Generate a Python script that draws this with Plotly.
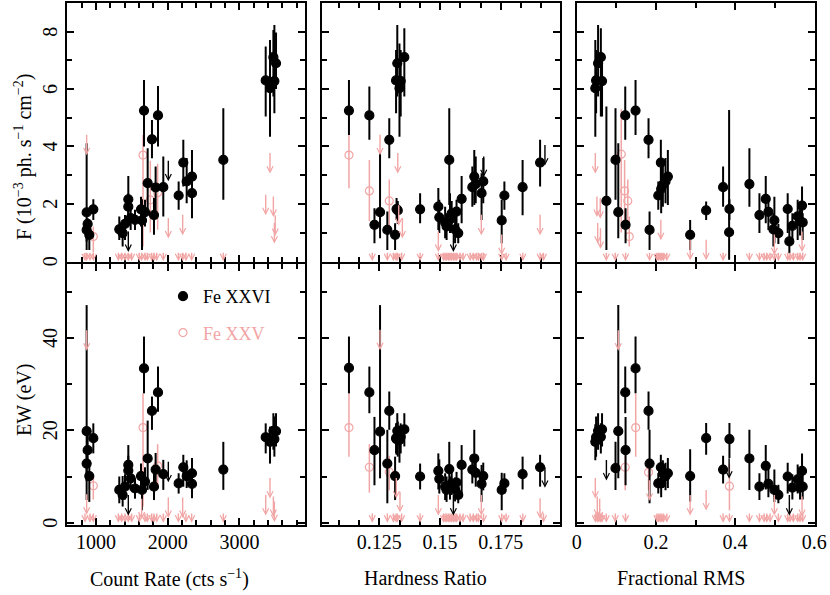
import plotly.graph_objects as go

PINK = '#F2A5A5'
FONT = 'Liberation Serif'

# ---------------- Count-rate panels ----------------
cr_fe26 = [870, 884, 870, 907, 963, 1325, 1372, 1405, 1451, 1451, 1484, 1544, 1628, 1642, 1684, 1670, 1721,
           1781, 1809, 1832, 1865, 1939, 2153, 2218, 2265, 2339, 2339, 2776, 3367, 3427, 3474, 3488, 3511]
f26_cr = [1.70, 1.30, 1.09, 0.92, 1.81, 1.11, 0.98, 1.30, 2.16, 1.90, 1.50, 1.44, 1.81, 1.42, 1.71, 5.25, 2.72,
          4.25, 1.61, 2.57, 5.08, 2.58, 2.29, 3.44, 2.78, 2.95, 2.37, 3.53, 6.30, 6.03, 7.11, 6.28, 6.90]
f26_cr_lo = [0.39, 0.98, 0.69, 0.39, 1.44, 0.74, 0.51, 0.74, 1.56, 1.44, 1.09, 1.09, 1.21, 0.39, 1.21, 4.00, 1.61,
             3.59, 0.92, 1.67, 4.00, 1.56, 1.79, 2.60, 2.02, 2.02, 1.50, 2.14, 5.04, 4.34, 5.74, 5.16, 6.00]
f26_cr_hi = [4.11, 1.50, 1.27, 1.21, 2.16, 1.56, 1.44, 1.61, 2.97, 2.36, 1.90, 1.79, 2.25, 2.16, 2.14, 6.32, 3.94,
             4.92, 2.20, 3.30, 6.11, 3.65, 2.78, 4.23, 3.60, 3.88, 3.07, 5.33, 7.48, 7.71, 8.06, 8.23, 7.97]
ew26_cr = [19.8, 15.7, 12.8, 10.1, 18.3, 7.1, 6.0, 7.8, 12.5, 11.3, 9.6, 7.4, 10.1, 7.1, 8.9, 33.4, 13.9,
           24.2, 7.8, 11.5, 28.2, 10.5, 8.5, 12.0, 10.1, 10.7, 8.4, 11.5, 18.5, 17.5, 19.9, 18.1, 19.8]
ew26_cr_lo = [4.9, 12.0, 9.0, 4.5, 15.0, 4.2, 3.5, 5.0, 7.7, 7.6, 7.0, 5.2, 6.3, 2.7, 6.5, 28.0, 7.1,
              20.1, 4.9, 7.7, 24.0, 7.1, 6.3, 7.8, 7.5, 7.1, 5.3, 7.1, 15.0, 12.8, 15.8, 14.3, 16.5]
ew26_cr_hi = [47.1, 19.5, 16.5, 13.6, 21.5, 10.0, 10.1, 10.5, 16.8, 14.5, 12.5, 9.6, 12.8, 10.8, 12.0, 40.3, 22.1,
              27.3, 10.7, 15.1, 33.8, 13.6, 10.7, 14.7, 13.5, 14.0, 10.7, 17.5, 21.5, 20.8, 23.7, 23.0, 23.7]
cr_fe26_ulF = [1451, 2009]
f26_cr_ul = [1.09, 3.55]
cr_fe26_ulEW = [1451, 2009]
ew26_cr_ul = [6.3, 13.5]
cr_fe25F = [963, 1656, 1758, 1860]
f25_cr = [0.86, 3.70, 2.14, 2.39]
f25_cr_lo = [0.30, 0.51, 1.00, 1.10]
f25_cr_hi = [1.20, 4.40, 3.50, 3.40]
cr_fe25EW = [963, 1656, 1860]
ew25_cr = [8.0, 20.6, 12.3]
ew25_cr_lo = [5.0, 3.5, 8.0]
ew25_cr_hi = [10.0, 28.0, 17.0]
cr_fe25_ulF = [870, 2009, 2209, 3427, 3367, 3474, 3488, 3500, 847, 870, 916, 963, 1312, 1358, 1405, 1451, 1498,
               1605, 1637, 1684, 1716, 1777, 1809, 1847, 1939, 2149, 2209, 2255, 2334, 2776]
f25_cr_ul = [4.46, 1.56, 1.67, 3.82, 2.37, 2.31, 1.38, 1.65, 0.35, 0.35, 0.35, 0.35, 0.35, 0.35, 0.35, 0.35, 0.35,
             0.35, 0.35, 0.35, 0.35, 0.35, 0.35, 0.35, 0.35, 0.35, 0.35, 0.35, 0.35, 0.35]
cr_fe25_ulEW = [870, 870, 1637, 2009, 2209, 3427, 3367, 3474, 3488, 847, 916, 963, 1312, 1358, 1405, 1451, 1498,
                1605, 1684, 1716, 1777, 1809, 1847, 1939, 2149, 2255, 2334, 2776]
ew25_cr_ul = [42.0, 6.5, 5.5, 5.8, 5.8, 10.0, 6.3, 6.0, 4.9, 2.3, 2.3, 2.3, 2.3, 2.3, 2.3, 2.3, 2.3,
              2.3, 2.3, 2.3, 2.3, 2.3, 2.3, 2.3, 2.3, 2.3, 2.3, 2.3]

# ---------------- Hardness-ratio panels ----------------
hr_fe26 = [0.1125, 0.1209, 0.1230, 0.1253, 0.1283, 0.1291, 0.1315, 0.1319, 0.1324, 0.1321, 0.1326, 0.1333,
           0.1338, 0.1353, 0.1418, 0.1493, 0.1497, 0.1521, 0.1527, 0.1538, 0.1541, 0.1548, 0.1562, 0.1568,
           0.1575, 0.1589, 0.1633, 0.1641, 0.1647, 0.1671, 0.1678, 0.1754, 0.1765, 0.1840, 0.1912]
f26_hr = [5.25, 5.08, 1.27, 1.71, 1.09, 4.23, 0.92, 6.30, 6.90, 1.82, 1.77, 6.03, 6.28, 7.11, 1.81, 1.90, 1.53,
          1.35, 1.21, 3.53, 1.46, 1.67, 1.11, 1.73, 0.98, 2.17, 2.58, 2.95, 2.69, 2.37, 2.78, 1.42, 2.29, 2.58, 3.44]
f26_hr_lo = [4.40, 4.23, 0.63, 0.80, 0.39, 3.59, 0.39, 5.16, 5.74, 1.44, 1.30, 4.34, 5.04, 5.74, 1.32, 1.09, 0.98,
             0.80, 0.74, 1.96, 0.98, 1.20, 0.63, 1.21, 0.63, 1.32, 1.90, 1.96, 2.02, 1.44, 2.02, 0.63, 1.79, 1.60, 2.60]
f26_hr_hi = [6.32, 6.09, 1.85, 3.76, 1.73, 4.98, 1.32, 7.36, 8.23, 2.20, 2.10, 7.59, 7.36, 8.12, 2.37, 2.55, 2.14,
             1.90, 1.67, 5.33, 2.37, 2.10, 1.67, 2.14, 1.32, 2.97, 3.30, 3.88, 3.65, 3.07, 3.60, 2.14, 2.78, 3.53, 4.23]
ew26_hr = [33.5, 28.2, 15.7, 19.7, 12.8, 24.2, 10.1, 18.3, 19.9, 18.1, 18.3, 17.9, 18.6, 20.2, 10.0, 11.2, 9.5,
           7.8, 7.1, 11.6, 7.6, 8.5, 7.2, 8.7, 6.0, 12.5, 11.5, 13.9, 10.8, 8.4, 10.1, 7.1, 8.5, 10.5, 12.0]
ew26_hr_lo = [28.0, 23.7, 8.1, 9.6, 4.2, 20.1, 4.9, 15.0, 16.0, 14.7, 14.3, 13.0, 15.0, 16.5, 7.2, 7.2, 6.3,
              4.9, 4.5, 7.1, 5.0, 6.0, 4.6, 6.5, 4.2, 6.3, 8.5, 10.0, 7.8, 4.5, 7.0, 2.7, 6.3, 7.2, 7.8]
ew26_hr_hi = [40.3, 33.8, 22.9, 47.1, 20.1, 28.4, 14.3, 21.5, 23.7, 21.6, 21.9, 21.0, 21.5, 23.7, 12.8, 15.0, 13.7,
              10.7, 10.0, 17.5, 10.0, 11.0, 9.8, 11.0, 8.2, 16.8, 14.5, 20.1, 14.2, 12.5, 13.0, 10.8, 10.7, 14.3, 14.7]
hr_fe26_ulF = [0.1555, 0.1932, 0.1680]
f26_hr_ul = [1.09, 4.10, 3.70]
hr_fe26_ulEW = [0.1555, 0.1932]
ew26_hr_ul = [6.3, 12.3]
hr_fe25 = [0.1125, 0.1209, 0.1291]
f25_hr = [3.70, 2.45, 2.10]
f25_hr_lo = [2.54, 1.39, 1.21]
f25_hr_hi = [4.40, 3.53, 2.85]
ew25_hr = [20.6, 12.0, 11.0]
ew25_hr_lo = [14.3, 6.5, 7.0]
ew25_hr_hi = [28.0, 17.0, 14.5]
hr_fe25_ulF = [0.1253, 0.1326, 0.1345, 0.1330, 0.1493, 0.1670, 0.1754, 0.1912,
               0.1221, 0.1283, 0.1308, 0.1319, 0.1324, 0.1342, 0.1418, 0.1493, 0.1514, 0.1521, 0.1528, 0.1535,
               0.1541, 0.1548, 0.1555, 0.1562, 0.1569, 0.1582, 0.1595, 0.1624, 0.1637, 0.1651, 0.1658, 0.1672,
               0.1679, 0.1754, 0.1772, 0.1841, 0.1912, 0.1926]
f25_hr_ul = [4.46, 3.82, 1.56, 2.00, 1.09, 1.67, 0.98, 1.67,
             0.35, 0.35, 0.35, 0.35, 0.35, 0.35, 0.35, 0.35, 0.35, 0.35, 0.35, 0.35,
             0.35, 0.35, 0.35, 0.35, 0.35, 0.35, 0.35, 0.35, 0.35, 0.35, 0.35, 0.35,
             0.35, 0.35, 0.35, 0.35, 0.35, 0.35]
hr_fe25_ulEW = [0.1253, 0.1320, 0.1335, 0.1493, 0.1670, 0.1912,
                0.1221, 0.1283, 0.1308, 0.1319, 0.1324, 0.1342, 0.1418, 0.1514, 0.1521, 0.1528, 0.1535,
                0.1541, 0.1548, 0.1555, 0.1562, 0.1569, 0.1582, 0.1595, 0.1624, 0.1637, 0.1651, 0.1658,
                0.1679, 0.1754, 0.1772, 0.1841, 0.1926]
ew25_hr_ul = [42.1, 10.0, 7.0, 6.3, 6.3, 5.6,
              2.3, 2.3, 2.3, 2.3, 2.3, 2.3, 2.3, 2.3, 2.3, 2.3, 2.3,
              2.3, 2.3, 2.3, 2.3, 2.3, 2.3, 2.3, 2.3, 2.3, 2.3, 2.3,
              2.3, 2.3, 2.3, 2.3, 2.3]

# ---------------- Fractional-RMS panels ----------------
rms_fe26F = [0.047, 0.049, 0.054, 0.061, 0.064, 0.075, 0.098, 0.105, 0.1226, 0.1234, 0.1486, 0.1814, 0.184,
             0.206, 0.2125, 0.2133, 0.2176, 0.2243, 0.2302, 0.2865, 0.3269, 0.3697, 0.3857, 0.3849, 0.4361,
             0.4614, 0.4774, 0.4841, 0.4992, 0.4967, 0.5093, 0.5328, 0.537, 0.5446, 0.558, 0.564, 0.569, 0.5707]
f26_rms = [6.03, 6.30, 6.90, 7.11, 6.28, 2.10, 3.53, 1.71, 5.08, 1.27, 5.25, 4.23, 1.09, 2.29, 3.44, 2.52, 2.66,
           2.78, 2.95, 0.92, 1.77, 2.58, 1.82, 1.01, 2.69, 1.61, 2.17, 1.72, 1.42, 1.11, 0.98, 1.82, 0.69, 1.23,
           1.56, 1.40, 1.94, 1.35]
f26_rms_lo = [4.34, 5.16, 5.74, 5.04, 5.04, 0.39, 2.14, 0.80, 4.23, 0.63, 4.40, 3.59, 0.39, 1.79, 2.60, 1.67, 1.90,
              2.02, 1.96, 0.39, 1.44, 1.90, 1.44, 0.05, 1.90, 0.98, 1.32, 1.09, 0.63, 0.51, 0.60, 0.98, 0.28, 0.74,
              0.74, 0.90, 1.21, 0.74]
f26_rms_hi = [7.71, 7.36, 8.23, 8.12, 7.25, 5.39, 5.33, 4.11, 6.09, 1.85, 6.32, 4.98, 1.73, 2.78, 4.23, 3.30, 3.40,
              3.60, 3.88, 1.44, 2.08, 3.30, 2.16, 5.27, 3.94, 2.37, 2.97, 2.14, 2.25, 1.67, 1.30, 2.37, 1.21, 1.67,
              2.14, 1.80, 2.60, 1.67]
rms_fe26EW = [0.047, 0.049, 0.054, 0.061, 0.064, 0.098, 0.105, 0.1226, 0.1234, 0.1486, 0.1814, 0.184, 0.206,
              0.2125, 0.2133, 0.2176, 0.2243, 0.2302, 0.2865, 0.3269, 0.3697, 0.3857, 0.4361, 0.4614, 0.4774,
              0.4841, 0.4992, 0.5093, 0.5328, 0.5446, 0.558, 0.564, 0.569, 0.5707]
ew26_rms = [17.5, 18.5, 19.9, 18.6, 20.2, 11.8, 19.8, 28.2, 15.7, 33.4, 24.2, 12.8, 8.5, 12.0, 8.5, 10.7, 10.1,
            10.7, 10.1, 18.3, 11.5, 18.1, 13.9, 7.8, 12.3, 8.4, 7.1, 6.0, 10.0, 7.6, 9.4, 7.6, 11.2, 7.8]
ew26_rms_lo = [13.5, 14.3, 15.8, 15.0, 16.5, 7.1, 9.6, 23.7, 8.1, 28.0, 20.1, 4.2, 6.3, 7.8, 5.5, 7.5, 7.0,
               7.5, 4.6, 14.7, 8.5, 14.0, 7.1, 4.9, 7.2, 5.5, 4.5, 4.2, 6.3, 5.0, 6.3, 5.0, 7.5, 5.0]
ew26_rms_hi = [21.3, 23.0, 23.7, 21.5, 23.7, 17.5, 47.1, 33.8, 22.9, 40.3, 28.4, 20.1, 10.7, 14.7, 11.0, 13.5,
               13.0, 14.0, 15.9, 21.6, 14.5, 21.6, 20.1, 10.7, 16.8, 12.0, 11.5, 8.2, 13.0, 10.5, 12.6, 10.0,
               15.0, 10.7]
rms_fe26_ulEW = [0.075, 0.3849, 0.537]
ew26_rms_ul = [13.9, 14.3, 6.3]
rms_fe25F = [0.1125, 0.121, 0.129, 0.1327]
f25_rms = [3.73, 2.45, 2.10, 0.86]
f25_rms_lo = [1.00, 1.39, 1.21, 0.51]
f25_rms_hi = [5.30, 3.53, 2.85, 1.56]
rms_fe25EW = [0.149, 0.1226, 0.1814, 0.3857]
ew25_rms = [20.6, 12.0, 10.9, 7.9]
ew25_rms_lo = [14.3, 7.0, 7.0, 2.7]
ew25_rms_hi = [28.0, 16.0, 14.0, 12.8]
rms_fe25_ulF = [0.0469, 0.0511, 0.0595, 0.0530, 0.0600, 0.2125, 0.4992, 0.569, 0.2865, 0.3269,
                0.0747, 0.0974, 0.1234, 0.184, 0.2025, 0.2067, 0.2109, 0.2151, 0.2193, 0.2277, 0.3697, 0.4361,
                0.4614, 0.4731, 0.4799, 0.4883, 0.4992, 0.5093, 0.5328, 0.5387, 0.5471, 0.558, 0.5639, 0.5707]
f25_rms_ul = [3.82, 2.31, 2.25, 1.38, 1.20, 1.50, 0.98, 1.09, 0.80, 0.80,
              0.35, 0.35, 0.35, 0.35, 0.35, 0.35, 0.35, 0.35, 0.35, 0.35, 0.35, 0.35,
              0.35, 0.35, 0.35, 0.35, 0.35, 0.35, 0.35, 0.35, 0.35, 0.35, 0.35, 0.35]
rms_fe25_ulEW = [0.105, 0.047, 0.052, 0.058, 0.184, 0.2865, 0.3269, 0.4992, 0.569,
                 0.047, 0.052, 0.056, 0.060, 0.064, 0.0747, 0.0974, 0.1234, 0.2025, 0.2067, 0.2109, 0.2151,
                 0.2193, 0.2277, 0.3697, 0.3857, 0.4361, 0.4614, 0.4731, 0.4799, 0.4883, 0.5093, 0.5328,
                 0.5387, 0.5471, 0.558, 0.5639, 0.5707]
ew25_rms_ul = [42.0, 10.0, 6.0, 5.5, 9.5, 6.3, 7.4, 6.3, 6.0,
               2.3, 2.3, 2.3, 2.3, 2.3, 2.3, 2.3, 2.3, 2.3, 2.3, 2.3, 2.3,
               2.3, 2.3, 2.3, 2.3, 2.3, 2.3, 2.3, 2.3, 2.3, 2.3, 2.3,
               2.3, 2.3, 2.3, 2.3, 2.3]

# tick labels
f_ticks = [0, 2, 4, 6, 8]
ew_ticks = [0, 20, 40]

# ---------------- axis settings ----------------
F_RANGE = [-0.01, 9.0]
EW_RANGE = [-0.5, 56.0]
X_RANGES = [[596, 3915], [0.1014, 0.1994], [-0.0005, 0.6005]]
XD = [[67 / 830, 305 / 830], [322 / 830, 560 / 830], [576.5 / 830, 814.5 / 830]]
YD_TOP = [1 - 261.5 / 595, 1 - 3 / 595]
YD_BOT = [1 - 525 / 595, 1 - 264 / 595]
TOP_PX, BOT_PX = 258.5, 261.0
ARROW_PX = 22.0

fig = go.Figure()


def det(xa, ya, x, y, lo, hi, color, symbol, size, thick, name=None, legend=False, rank=1):
    fig.add_trace(go.Scatter(
        x=x, y=y, mode='markers', xaxis=xa, yaxis=ya, name=name, showlegend=legend, legendrank=rank,
        legendgroup=name, hoverinfo='skip',
        marker=dict(symbol=symbol, size=size, color=color, line=dict(color=color, width=1.2)),
        error_y=dict(type='data', symmetric=False, array=[h - v for v, h in zip(y, hi)],
                     arrayminus=[v - l for v, l in zip(y, lo)], color=color, thickness=thick, width=0)))


annotations = []


def arrows(xa, ya, x, u, color, yr):
    span = yr[1] - yr[0]
    px = TOP_PX if ya in ('y', 'y2', 'y3') else BOT_PX
    L = ARROW_PX * span / px
    for xv, uv in zip(x, u):
        tip = max(uv - L, 0.0)
        annotations.append(dict(x=xv, y=tip, ax=xv, ay=uv, xref=xa, yref=ya, axref=xa, ayref=ya,
                                text='', showarrow=True, arrowhead=5, arrowsize=0.85, arrowwidth=1.4,
                                arrowcolor=color, standoff=0))


BLACK = 'black'
# pink first (behind), then black
det('x', 'y', cr_fe25F, f25_cr, f25_cr_lo, f25_cr_hi, PINK, 'circle-open', 8, 1.5)
det('x4', 'y4', cr_fe25EW, ew25_cr, ew25_cr_lo, ew25_cr_hi, PINK, 'circle-open', 8, 1.5,
    name="<span style='color:%s'>Fe XXV</span>" % PINK, legend=True, rank=2)
det('x2', 'y2', hr_fe25, f25_hr, f25_hr_lo, f25_hr_hi, PINK, 'circle-open', 8, 1.5)
det('x5', 'y5', hr_fe25, ew25_hr, ew25_hr_lo, ew25_hr_hi, PINK, 'circle-open', 8, 1.5)
det('x3', 'y3', rms_fe25F, f25_rms, f25_rms_lo, f25_rms_hi, PINK, 'circle-open', 8, 1.5)
det('x6', 'y6', rms_fe25EW, ew25_rms, ew25_rms_lo, ew25_rms_hi, PINK, 'circle-open', 8, 1.5)

det('x', 'y', cr_fe26, f26_cr, f26_cr_lo, f26_cr_hi, BLACK, 'circle', 9, 2)
det('x4', 'y4', cr_fe26, ew26_cr, ew26_cr_lo, ew26_cr_hi, BLACK, 'circle', 9, 2, name='Fe XXVI', legend=True, rank=1)
det('x2', 'y2', hr_fe26, f26_hr, f26_hr_lo, f26_hr_hi, BLACK, 'circle', 9, 2)
det('x5', 'y5', hr_fe26, ew26_hr, ew26_hr_lo, ew26_hr_hi, BLACK, 'circle', 9, 2)
det('x3', 'y3', rms_fe26F, f26_rms, f26_rms_lo, f26_rms_hi, BLACK, 'circle', 9, 2)
det('x6', 'y6', rms_fe26EW, ew26_rms, ew26_rms_lo, ew26_rms_hi, BLACK, 'circle', 9, 2)

arrows('x', 'y', cr_fe25_ulF, f25_cr_ul, PINK, F_RANGE)
arrows('x4', 'y4', cr_fe25_ulEW, ew25_cr_ul, PINK, EW_RANGE)
arrows('x2', 'y2', hr_fe25_ulF, f25_hr_ul, PINK, F_RANGE)
arrows('x5', 'y5', hr_fe25_ulEW, ew25_hr_ul, PINK, EW_RANGE)
arrows('x3', 'y3', rms_fe25_ulF, f25_rms_ul, PINK, F_RANGE)
arrows('x6', 'y6', rms_fe25_ulEW, ew25_rms_ul, PINK, EW_RANGE)
arrows('x', 'y', cr_fe26_ulF, f26_cr_ul, BLACK, F_RANGE)
arrows('x4', 'y4', cr_fe26_ulEW, ew26_cr_ul, BLACK, EW_RANGE)
arrows('x2', 'y2', hr_fe26_ulF, f26_hr_ul, BLACK, F_RANGE)
arrows('x5', 'y5', hr_fe26_ulEW, ew26_hr_ul, BLACK, EW_RANGE)
arrows('x6', 'y6', rms_fe26_ulEW, ew26_rms_ul, BLACK, EW_RANGE)

tickfont = dict(family=FONT, size=20, color='black')
common = dict(showline=True, linewidth=2, linecolor='black', mirror='allticks', ticks='inside',
              ticklen=7, tickwidth=1.5, tickcolor='black', showgrid=False, zeroline=False,
              tickfont=tickfont, automargin=False)

x_major = [[1000, 2000, 3000], [0.125, 0.15, 0.175], [0, 0.2, 0.4, 0.6]]
x_text = [['1000', '2000', '3000'], ['0.125', '0.15', '0.175'], ['0', '0.2', '0.4', '0.6']]
x_minor = [[600 + 200 * i for i in range(17)],
           [0.125 + (0.025 / 3) * i for i in range(-2, 9)],
           [0.1, 0.3, 0.5]]

layout = {}
for i in range(3):
    for row in range(2):
        n = i + 1 + 3 * row
        key = 'xaxis' if n == 1 else 'xaxis%d' % n
        ykey = 'yaxis' if n == 1 else 'yaxis%d' % n
        ya = 'y' if n == 1 else 'y%d' % n
        xa = 'x' if n == 1 else 'x%d' % n
        layout[key] = dict(common, domain=XD[i], anchor=ya, range=X_RANGES[i],
                           tickmode='array', tickvals=x_major[i], ticktext=x_text[i],
                           showticklabels=(row == 1), ticklabelstandoff=-2,
                           minor=dict(ticks='inside', ticklen=5, tickwidth=1.5, tickcolor='black',
                                      tickmode='array', tickvals=x_minor[i]))
        if row == 0:
            ycfg = dict(range=F_RANGE, tickvals=f_ticks, minorvals=[1, 3, 5, 7], domain=YD_TOP)
        else:
            ycfg = dict(range=EW_RANGE, tickvals=ew_ticks, minorvals=[10, 30, 50], domain=YD_BOT)
        layout[ykey] = dict(common, domain=ycfg['domain'], anchor=xa, range=ycfg['range'],
                            tickmode='array', tickvals=ycfg['tickvals'],
                            showticklabels=False,
                            minor=dict(ticks='inside', ticklen=5, tickwidth=1.5, tickcolor='black',
                                       tickmode='array', tickvals=ycfg['minorvals']))

# rotated y tick labels (as in the reference) placed beside the left axes
for v in f_ticks:
    annotations.append(dict(text=str(v), x=50 / 830, y=v, xref='paper', yref='y', showarrow=False,
                            textangle=-90, font=tickfont, xanchor='center', yanchor='middle'))
for v in ew_ticks:
    annotations.append(dict(text=str(v), x=50 / 830, y=v, xref='paper', yref='y4', showarrow=False,
                            textangle=-90, font=tickfont, xanchor='center', yanchor='middle'))

title_font = dict(family=FONT, size=20, color='black')
titles = [
    dict(text='Count Rate (cts s<sup>−1</sup>)', x=169 / 830, y=1 - 578 / 595, textangle=0),
    dict(text='Hardness Ratio', x=426 / 830, y=1 - 578 / 595, textangle=0),
    dict(text='Fractional RMS', x=681 / 830, y=1 - 578 / 595, textangle=0),
    dict(text='F (10<sup>−3</sup> ph. s<sup>−1</sup> cm<sup>−2</sup>)', x=24 / 830, y=1 - 157 / 595, textangle=-90),
    dict(text='EW (eV)', x=24 / 830, y=1 - 400 / 595, textangle=-90),
]
for t in titles:
    annotations.append(dict(t, xref='paper', yref='paper', showarrow=False, font=title_font,
                            xanchor='center', yanchor='middle'))

fig.update_layout(
    width=830, height=595, margin=dict(l=0, r=0, t=0, b=0),
    paper_bgcolor='white', plot_bgcolor='white',
    font=dict(family=FONT, size=19, color='black'),
    showlegend=True,
    legend=dict(x=163 / 830, y=1 - 278 / 595, xanchor='left', yanchor='top',
                font=dict(family=FONT, size=18, color='black'), bgcolor='rgba(0,0,0,0)',
                tracegroupgap=10, itemsizing='trace'),
    annotations=annotations,
    **layout)

fig.write_html('out.html', config={'displayModeBar': False},
               post_script="document.body.style.margin='0px';document.body.style.overflow='hidden';")
